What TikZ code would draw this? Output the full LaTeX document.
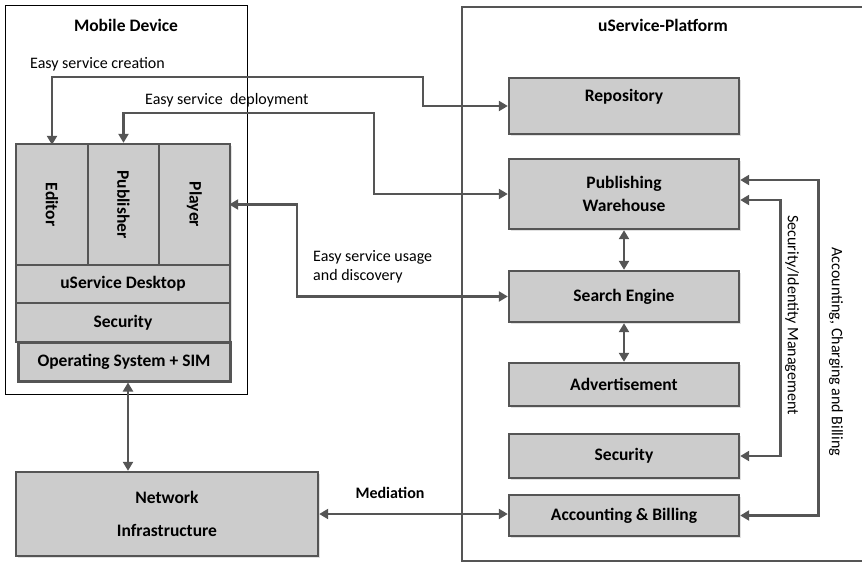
\documentclass[tikz,border=0pt]{standalone}
\usepackage{fontspec}
\setmainfont{Carlito}
\usetikzlibrary{arrows.meta,shadows}
\definecolor{boxfill}{RGB}{204,204,204}
\definecolor{boxline}{RGB}{85,85,85}
\definecolor{shade}{RGB}{225,225,225}
\begin{document}
\begin{tikzpicture}[
  x=1pt, y=-1pt,
  box/.style={draw=boxline, fill=boxfill, line width=2.4pt, font=\fontsize{17.5}{23}\selectfont\bfseries,
    align=center, inner sep=0pt, drop shadow={shadow xshift=2pt, shadow yshift=-2pt, fill=shade, opacity=1}},
  vbox/.style={box, rotate=-90},
  link/.style={draw=boxline, line width=2.8pt, {Triangle[length=9pt,width=10pt]}-{Triangle[length=9pt,width=10pt]}},
  lbl/.style={font=\fontsize{16}{19}\selectfont, align=left, inner sep=0pt},
  title/.style={font=\fontsize{17.5}{23}\selectfont\bfseries, inner sep=0pt}
]
\useasboundingbox (0,0) rectangle (862,562);

% frames
\draw[line width=1pt] (5,5) rectangle (247,394);
\draw[draw=boxline, line width=1.8pt] (862,7) -| (462,561) -- (862,561);
\node[title] (mobiletitle) at (126,25) {Mobile Device};
\node[title] (platformtitle) at (663,25) {uService-Platform};

% mobile device stack
\node[vbox, minimum width=121, minimum height=72] (editor) at (52,204.5) {Editor};
\node[vbox, minimum width=121, minimum height=71] (publisher) at (123.5,204.5) {Publisher};
\node[vbox, minimum width=121, minimum height=71] (player) at (194.5,204.5) {Player};
\node[box, minimum width=214, minimum height=38] (desktop) at (123,284) {uService Desktop};
\node[box, minimum width=214, minimum height=39] (devsecurity) at (123,322.5) {Security};
\node[box, minimum width=212, minimum height=39, line width=3pt] (os) at (124,361.5) {Operating System + SIM};

% network
\node[box, minimum width=302, minimum height=84, font=\fontsize{17.5}{33}\selectfont\bfseries] (network) at (167,514) {Network\\Infrastructure};

% platform
\node[box, minimum width=230, minimum height=56] (repo) at (624,106) {Repository\\[-8pt]\strut};
\node[box, minimum width=230, minimum height=70] (warehouse) at (624,194) {Publishing\\Warehouse};
\node[box, minimum width=230, minimum height=51] (search) at (624,296.5) {Search Engine};
\node[box, minimum width=230, minimum height=43] (advert) at (624,384.5) {Advertisement};
\node[box, minimum width=230, minimum height=44] (security) at (624,456) {Security};
\node[box, minimum width=230, minimum height=41] (billing) at (624,515.5) {Accounting \& Billing};

% connectors
\draw[link] ([yshift=-2pt]editor.west) |- (423,77) |- (repo.west);
\draw[link] (publisher.west) |- (374,113) |- (warehouse.west);
\draw[link] ([xshift=-2pt]player.north) -| (297,296.5) -- (search.west);
\draw[link] (warehouse.south) -- (search.north);
\draw[link] (search.south) -- (advert.north);
\draw[link] ([yshift=-6pt]warehouse.east) -- ++(40,0) |- (security.east);
\draw[link] ([yshift=14pt]warehouse.east) -- ++(78,0) |- (billing.east);
\draw[link] ([xshift=4pt]os.south) -- ([xshift=4pt]os.south |- network.north);
\draw[link] (network.east) -- (network.east -| billing.west);

% labels
\node[lbl, anchor=west] (creationlbl) at (30,64) {Easy service creation};
\node[lbl, anchor=west] (deploylbl) at (145,100) {Easy service \ deployment};
\node[lbl, anchor=west] (usagelbl) at (313,267) {Easy service usage\\and discovery};
\node[title, font=\fontsize{16}{19}\selectfont\bfseries] (mediationlbl) at (390,493) {Mediation};
\node[lbl, rotate=-90] (identitylbl) at (792,315) {Security/Identity Management};
\node[lbl, rotate=-90] (chargelbl) at (836,352) {Accounting, Charging and Billing};
\end{tikzpicture}
\end{document}
